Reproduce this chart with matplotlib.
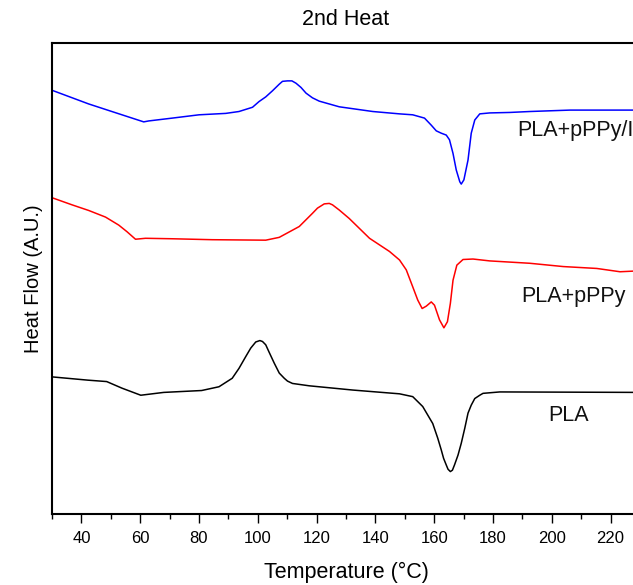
import matplotlib
matplotlib.use("Agg")
import matplotlib.pyplot as plt
from matplotlib.ticker import MultipleLocator

plt.rcParams["font.family"] = ["Liberation Sans", "DejaVu Sans"]

# DSC second-heating traces (temperature in degC, heat flow in arbitrary units, offset)
temp_pla_ppy_i = [29.6, 42.5, 53.8, 61.2, 62.9, 70.9, 80.0, 89.1, 93.6, 98.2, 100.4,
                  102.7, 105.0, 107.3, 108.4, 110.1, 111.6, 113.0, 114.7, 116.4, 118.6,
                  120.9, 124.3, 127.7, 139.1, 148.2, 152.7,
                  156.7, 159.0, 160.7, 162.4, 164.1, 165.2, 166.4, 167.5, 168.7, 169.2,
                  170.1, 171.5, 172.6, 173.8, 175.5, 178.9, 185.7, 192.5, 206.2, 230.0]
flow_pla_ppy_i = [90.0, 87.0, 84.7, 83.2, 83.4, 84.0, 84.7, 85.0, 85.4, 86.3, 87.5,
                  88.5, 89.8, 91.2, 91.8, 91.9, 91.9, 91.4, 90.5, 89.3, 88.3,
                  87.6, 87.0, 86.4, 85.4, 84.9, 84.7,
                  84.0, 82.5, 81.3, 80.8, 80.4, 79.4, 76.5, 73.0, 70.5, 70.0,
                  70.9, 75.1, 80.8, 83.6, 84.9, 85.1, 85.2, 85.4, 85.7, 85.7]

temp_pla_ppy = [29.6, 36.8, 42.5, 48.2, 52.7, 55.5, 58.4, 61.8, 70.9, 84.5, 102.7,
                107.3, 114.1, 118.6, 120.3, 122.6, 124.3, 125.4, 127.7, 131.1, 138.0,
                141.4, 144.8, 148.2, 150.5, 152.7, 154.4, 155.9, 157.3, 159.0, 160.1,
                161.8, 163.3, 164.5, 165.5, 166.4, 167.7, 169.8, 173.2, 178.9, 192.5,
                203.9, 215.3, 223.2, 230.0]
flow_pla_ppy = [67.2, 65.6, 64.4, 63.0, 61.3, 59.9, 58.3, 58.5, 58.4, 58.2, 58.1,
                58.7, 61.0, 63.8, 64.9, 65.8, 65.9, 65.6, 64.5, 62.7, 58.5,
                57.1, 55.7, 53.9, 51.8, 48.2, 45.4, 43.6, 44.1, 45.0, 44.3,
                41.2, 39.5, 40.8, 44.7, 49.6, 52.8, 54.0, 54.1, 53.7, 53.2,
                52.5, 52.1, 51.4, 51.6]

temp_pla = [29.9, 42.2, 48.6, 53.8, 60.2, 68.0, 80.9, 86.8, 91.3, 93.6, 95.9,
            97.6, 99.3, 100.7, 101.6, 102.7, 103.8, 105.6, 107.3, 109.0, 110.1,
            111.8, 117.5, 132.3, 148.2, 152.7, 156.1, 159.5, 161.2, 162.4, 163.2,
            164.1, 164.7, 165.5, 166.2, 166.9, 168.1, 169.2, 170.4, 171.5, 172.6,
            173.8, 175.5, 176.6, 182.3, 230.0]
flow_pla = [29.1, 28.4, 28.1, 26.7, 25.2, 25.8, 26.2, 27.0, 28.8, 30.9, 33.4,
            35.2, 36.5, 36.8, 36.6, 35.9, 34.4, 32.0, 29.9, 28.8, 28.2,
            27.7, 27.2, 26.3, 25.5, 24.9, 22.8, 19.2, 16.1, 13.6, 11.8,
            10.4, 9.5, 9.0, 9.3, 10.4, 12.5, 15.0, 18.2, 21.4, 23.1,
            24.5, 25.2, 25.6, 25.9, 25.8]

curve_names = ["PLA+pPPy/I", "PLA+pPPy", "PLA"]
name_positions = [(188.2, 80.1), (189.7, 45.0), (198.9, 19.8)]

fig = plt.figure(figsize=(6.33, 5.85), dpi=100)
ax = fig.add_axes([52 / 633, 71 / 585, 588 / 633, 471.3 / 585])

line_style = dict(lw=1.1, solid_joinstyle="round", solid_capstyle="round")
ax.plot(temp_pla_ppy_i, flow_pla_ppy_i, color="#0000ff", **line_style)
ax.plot(temp_pla_ppy, flow_pla_ppy, color="#ff0000", **line_style)
ax.plot(temp_pla, flow_pla, color="#000000", **line_style)

for name, (tx, ty) in zip(curve_names, name_positions):
    ax.text(tx, ty, name, fontsize=15.5, ha="left", va="baseline", color="#111111")

ax.set_xlim(30, 230)
ax.set_ylim(0, 100)
ax.xaxis.set_major_locator(MultipleLocator(20))
ax.xaxis.set_minor_locator(MultipleLocator(10))
ax.set_yticks([])
ax.tick_params(axis="x", which="major", direction="out", length=6.5, width=1.0,
               labelsize=12, pad=6)
ax.tick_params(axis="x", which="minor", direction="out", length=3.5, width=1.0)
for side in ax.spines.values():
    side.set_linewidth(1.5)

ax.set_xlabel("Temperature (°C)", fontsize=15.5, labelpad=11)
ax.set_ylabel("Heat Flow (A.U.)", fontsize=14.5)
ax.yaxis.set_label_coords(-0.016, 0.5)
ax.set_title("2nd Heat", fontsize=15.5, pad=13)

fig.savefig("out.png", dpi=100, facecolor="white")
